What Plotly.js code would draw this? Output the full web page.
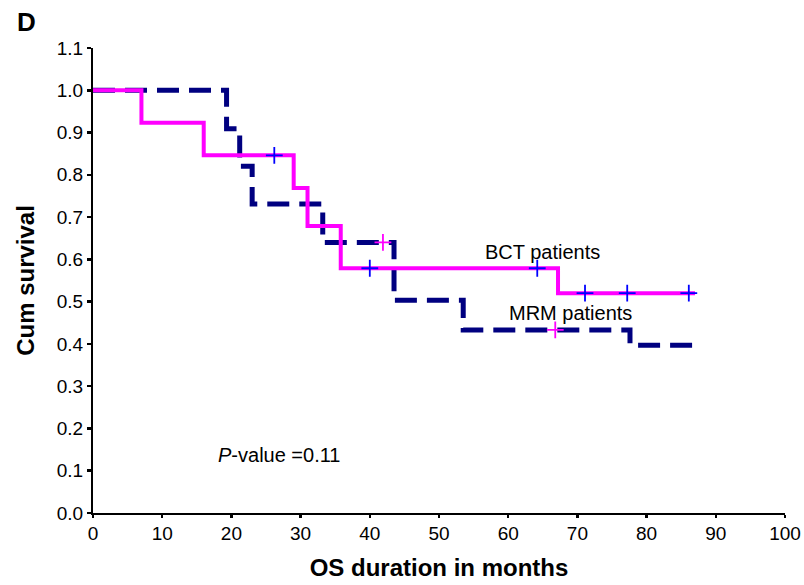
<!DOCTYPE html>
<html>
<head>
<meta charset="utf-8">
<script src="https://cdn.plot.ly/plotly-3.0.1.min.js"></script>
<style>html,body{margin:0;padding:0;background:#fff;}#chart{width:804px;height:585px;}</style>
</head>
<body>
<div id="chart"></div>
<script>
// BCT patients (solid magenta step curve)
const bctTimes = [0, 7, 16, 29, 31, 35.8, 67.2, 87];
const bctSurv  = [1.0, 0.923, 0.846, 0.769, 0.679, 0.579, 0.52, 0.52];
const bctCensorTimes = [26.2, 40, 64.2, 71.1, 77.2, 86.1];
const bctCensorSurv  = [0.846, 0.579, 0.579, 0.52, 0.52, 0.52];

// MRM patients (dashed navy step curve)
const mrmTimes = [0, 19.3, 21.2, 23, 33.2, 43.5, 53.5, 77.6, 87.3];
const mrmSurv  = [1.0, 0.909, 0.82, 0.731, 0.64, 0.503, 0.433, 0.397, 0.397];
const mrmCensorTimes = [41.9, 66.8];
const mrmCensorSurv  = [0.64, 0.433];

const xTicks = [0, 10, 20, 30, 40, 50, 60, 70, 80, 90, 100];
const yTicks = [0.0, 0.1, 0.2, 0.3, 0.4, 0.5, 0.6, 0.7, 0.8, 0.9, 1.0, 1.1];

const FONT = 'Liberation Sans, Arial, sans-serif';

const traces = [
  {x: mrmTimes, y: mrmSurv, mode: 'lines', line: {shape: 'hv', color: '#000080', width: 5, dash: '22px,10px'}, name: 'MRM patients', hoverinfo: 'skip'},
  {x: bctTimes, y: bctSurv, mode: 'lines', line: {shape: 'hv', color: '#FF00FF', width: 4}, name: 'BCT patients', hoverinfo: 'skip'},
  {x: bctCensorTimes, y: bctCensorSurv, mode: 'markers', marker: {symbol: 'cross-thin', size: 12, line: {color: '#0000FF', width: 1.8}}, hoverinfo: 'skip'},
  {x: mrmCensorTimes, y: mrmCensorSurv, mode: 'markers', marker: {symbol: 'cross-thin', size: 12, line: {color: '#FF00FF', width: 1.8}}, hoverinfo: 'skip'}
];

const layout = {
  width: 804, height: 585,
  margin: {l: 93, r: 19, t: 48, b: 72},
  paper_bgcolor: '#fff', plot_bgcolor: '#fff',
  showlegend: false,
  font: {family: FONT, size: 19, color: '#000'},
  xaxis: {
    range: [0, 100], tickvals: xTicks, ticktext: xTicks.map(String),
    showgrid: false, zeroline: false, showline: true, linecolor: '#000', linewidth: 1.5,
    ticks: 'outside', ticklen: 3, tickwidth: 2.5, tickcolor: '#000',
    tickfont: {family: FONT, size: 19, color: '#000'},
    title: {text: 'OS duration in months', font: {family: FONT, size: 24, color: '#000', weight: 'bold'}, standoff: 16}
  },
  yaxis: {
    range: [0, 1.1], tickvals: yTicks, ticktext: yTicks.map(v => v.toFixed(1)),
    showgrid: false, zeroline: false, showline: true, linecolor: '#000', linewidth: 2,
    ticks: 'outside', ticklen: 4, tickwidth: 2.5, tickcolor: '#000',
    tickfont: {family: FONT, size: 19, color: '#000'},
    title: {text: 'Cum survival', font: {family: FONT, size: 24, color: '#000', weight: 'bold'}, standoff: 15}
  },
  annotations: [
    {xref: 'paper', yref: 'paper', x: -0.113, y: 1.056, xanchor: 'left', yanchor: 'middle', text: '<b>D</b>', showarrow: false, font: {family: FONT, size: 26, color: '#000'}},
    {xref: 'x', yref: 'y', x: 65, y: 0.617, text: 'BCT patients', showarrow: false, font: {family: FONT, size: 20, color: '#000'}},
    {xref: 'x', yref: 'y', x: 69, y: 0.473, text: 'MRM patients', showarrow: false, font: {family: FONT, size: 20, color: '#000'}},
    {xref: 'x', yref: 'y', x: 17.8, y: 0.137, xanchor: 'left', text: '<i>P</i>-value =0.11', showarrow: false, font: {family: FONT, size: 20, color: '#000'}}
  ]
};

Plotly.newPlot('chart', traces, layout, {displayModeBar: false, staticPlot: true});
</script>
</body>
</html>
